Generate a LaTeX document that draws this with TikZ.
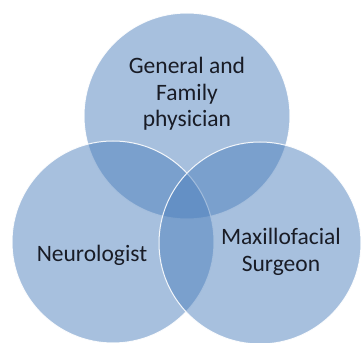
\documentclass[tikz,border=0pt]{standalone}
\usepackage{fontspec}
\setmainfont{Carlito}
\usepackage{tikz}
\usetikzlibrary{positioning}
\usepackage{xcolor}
\definecolor{setblue}{RGB}{79,129,189}
\definecolor{labelink}{RGB}{25,28,38}

\begin{document}
\begin{tikzpicture}[
  x=1pt,y=1pt,
  set/.style={
    circle,
    draw=white,
    line width=1pt,
    fill=setblue,
    fill opacity=0.5,
    draw opacity=0.9,
    minimum size=202pt,
    inner sep=0pt
  },
  setlabel/.style={
    align=center,
    text=labelink,
    inner sep=0pt,
    font=\fontsize{23.5}{26.5}\selectfont
  }
]
\useasboundingbox (0,0) rectangle (362,343);
\clip (0,0) rectangle (362,343);

% The three specialties
\node[set,minimum size=206pt] (general) at (187,227) {};
\node[set] (neuro) at (113,101) {};
\node[set] (maxillo) at (260,100) {};

% Labels
\node[setlabel] (generallabel) at (187,249)
  {General and\\Family\\physician};
\node[setlabel] (neurolabel) at (92,88) {Neurologist};
\node[setlabel] (maxillolabel) at (281,91)
  {Maxillofacial\\Surgeon};
\end{tikzpicture}
\end{document}
